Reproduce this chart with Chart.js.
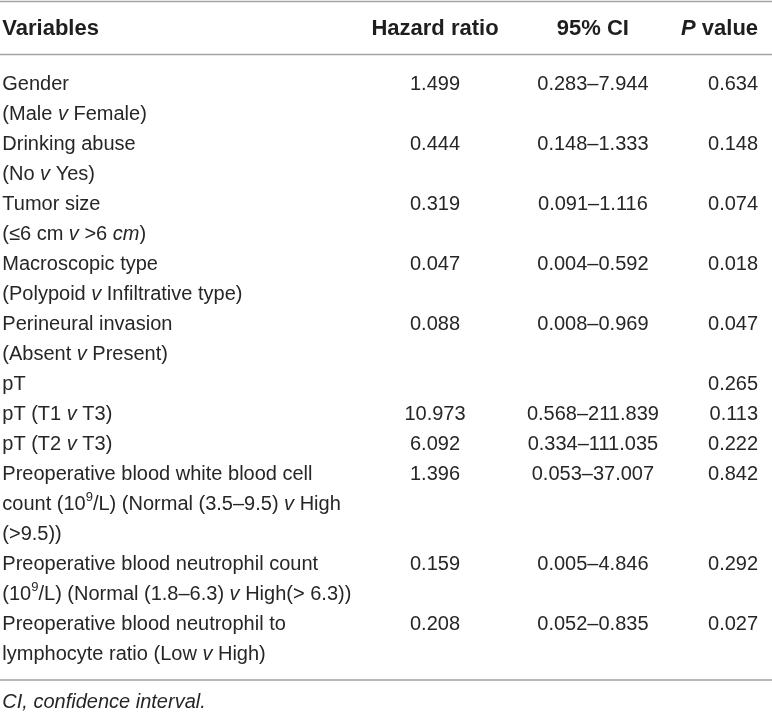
<!DOCTYPE html>
<html>
<head>
<meta charset="utf-8">
<script src="https://cdn.jsdelivr.net/npm/chart.js@4/dist/chart.umd.min.js"></script>
<style>
  html, body { margin: 0; padding: 0; background: #ffffff; }
  #wrap { width: 772px; height: 712px; position: relative; }
</style>
</head>
<body>
<div id="wrap"><canvas id="c"></canvas></div>
<script>
// ---- DATA ----
const columnHeaders = ["Variables", "Hazard ratio", "95% CI", "_P_ value"];
const variableLabels = [
  ["Gender", "(Male _v_ Female)"],
  ["Drinking abuse", "(No _v_ Yes)"],
  ["Tumor size", "(\u22646 cm _v_ >6 _cm_)"],
  ["Macroscopic type", "(Polypoid _v_ Infiltrative type)"],
  ["Perineural invasion", "(Absent _v_ Present)"],
  ["pT"],
  ["pT (T1 _v_ T3)"],
  ["pT (T2 _v_ T3)"],
  ["Preoperative blood white blood cell", "count (10^9^/L) (Normal (3.5\u20139.5) _v_ High", "(>9.5))"],
  ["Preoperative blood neutrophil count", "(10^9^/L) (Normal (1.8\u20136.3) _v_ High(> 6.3))"],
  ["Preoperative blood neutrophil to", "lymphocyte ratio (Low _v_ High)"]
];
const hazardRatios = ["1.499", "0.444", "0.319", "0.047", "0.088", "", "10.973", "6.092", "1.396", "0.159", "0.208"];
const ciLower = ["0.283", "0.148", "0.091", "0.004", "0.008", "", "0.568", "0.334", "0.053", "0.005", "0.052"];
const ciUpper = ["7.944", "1.333", "1.116", "0.592", "0.969", "", "211.839", "111.035", "37.007", "4.846", "0.835"];
const pValues = ["0.634", "0.148", "0.074", "0.018", "0.047", "0.265", "0.113", "0.222", "0.842", "0.292", "0.027"];
const footnote = "_CI, confidence interval._";

// ---- LAYOUT (in scale units) ----
const colAnchor = [0.003, 0.5635, 0.768, 0.982];   // x positions of columns (fraction of width)
const colAlign = ["left", "center", "center", "right"];
const lineStep = 1;             // one text line per y unit
const headerY = -1.83;
const topRuleY = -2.72;
const headerRuleY = -0.95;
const FONT = '"Liberation Sans", Arial, Helvetica, sans-serif';
const FS = 20;
const HFS = 22;
const TEXT = "#262626";
const HTEXT = "#1e1e1e";
const RULE = "#a3a3a3";

// Build cell list
const cells = [];
columnHeaders.forEach((h, i) => cells.push({x: colAnchor[i], y: headerY, text: h, align: colAlign[i], bold: true}));
let line = 0;
variableLabels.forEach((lines, r) => {
  lines.forEach((t, k) => cells.push({x: colAnchor[0], y: line + k, text: t, align: "left"}));
  if (hazardRatios[r]) cells.push({x: colAnchor[1], y: line, text: hazardRatios[r], align: "center"});
  if (ciLower[r]) cells.push({x: colAnchor[2], y: line, text: ciLower[r] + "\u2013" + ciUpper[r], align: "center"});
  if (pValues[r]) cells.push({x: colAnchor[3], y: line, text: pValues[r], align: "right"});
  line += lines.length * lineStep;
});
const bottomRuleY = line - 0.1;
const footY = line + 0.63;
cells.push({x: colAnchor[0], y: footY, text: footnote, align: "left"});

const rules = [topRuleY, headerRuleY, bottomRuleY];

// Parse markup: _italic_, ^superscript^
function parse(text) {
  const segs = [];
  let italic = false, sup = false, buf = "";
  for (const ch of text) {
    if (ch === "_" || ch === "^") {
      if (buf) segs.push({t: buf, italic, sup});
      buf = "";
      if (ch === "_") italic = !italic; else sup = !sup;
    } else buf += ch;
  }
  if (buf) segs.push({t: buf, italic, sup});
  return segs;
}
function fontFor(seg, bold) {
  const size = seg.sup ? 13 : (bold ? HFS : FS);
  return (seg.italic ? "italic " : "") + (bold ? "bold " : "") + size + "px " + FONT;
}

const tablePlugin = {
  id: "tableText",
  afterDatasetsDraw(chart) {
    const ctx = chart.ctx;
    const xs = chart.scales.x, ys = chart.scales.y;
    ctx.save();
    ctx.textBaseline = "middle";
    ctx.textAlign = "left";
    chart.data.datasets[0].data.forEach(d => {
      const c = d.cell;
      ctx.fillStyle = c.bold ? HTEXT : TEXT;
      const segs = parse(c.text);
      let w = 0;
      segs.forEach(s => { ctx.font = fontFor(s, c.bold); s.w = ctx.measureText(s.t).width; w += s.w; });
      let px = xs.getPixelForValue(d.x);
      if (c.align === "center") px -= w / 2;
      else if (c.align === "right") px -= w;
      const py = ys.getPixelForValue(d.y) + 1;
      segs.forEach(s => {
        ctx.font = fontFor(s, c.bold);
        ctx.fillText(s.t, px, s.sup ? py - 7 : py);
        px += s.w;
      });
    });
    ctx.restore();
  }
};

const datasets = [{
  type: "scatter",
  data: cells.map(c => ({x: c.x, y: c.y, cell: c})),
  pointRadius: 0,
  pointHoverRadius: 0
}];
rules.forEach(r => datasets.push({
  type: "line",
  data: [{x: 0, y: r}, {x: 1, y: r}],
  borderColor: RULE,
  borderWidth: 1.5,
  pointRadius: 0,
  fill: false
}));

new Chart(document.getElementById("c"), {
  type: "scatter",
  data: { datasets },
  options: {
    responsive: true,
    maintainAspectRatio: false,
    animation: false,
    events: [],
    layout: { padding: 0 },
    plugins: { legend: { display: false }, tooltip: { enabled: false } },
    scales: {
      x: { type: "linear", min: 0, max: 1, display: false },
      y: { type: "linear", min: -2.7667, max: 20.9667, reverse: true, display: false }
    }
  },
  plugins: [tablePlugin]
});
</script>
</body>
</html>
